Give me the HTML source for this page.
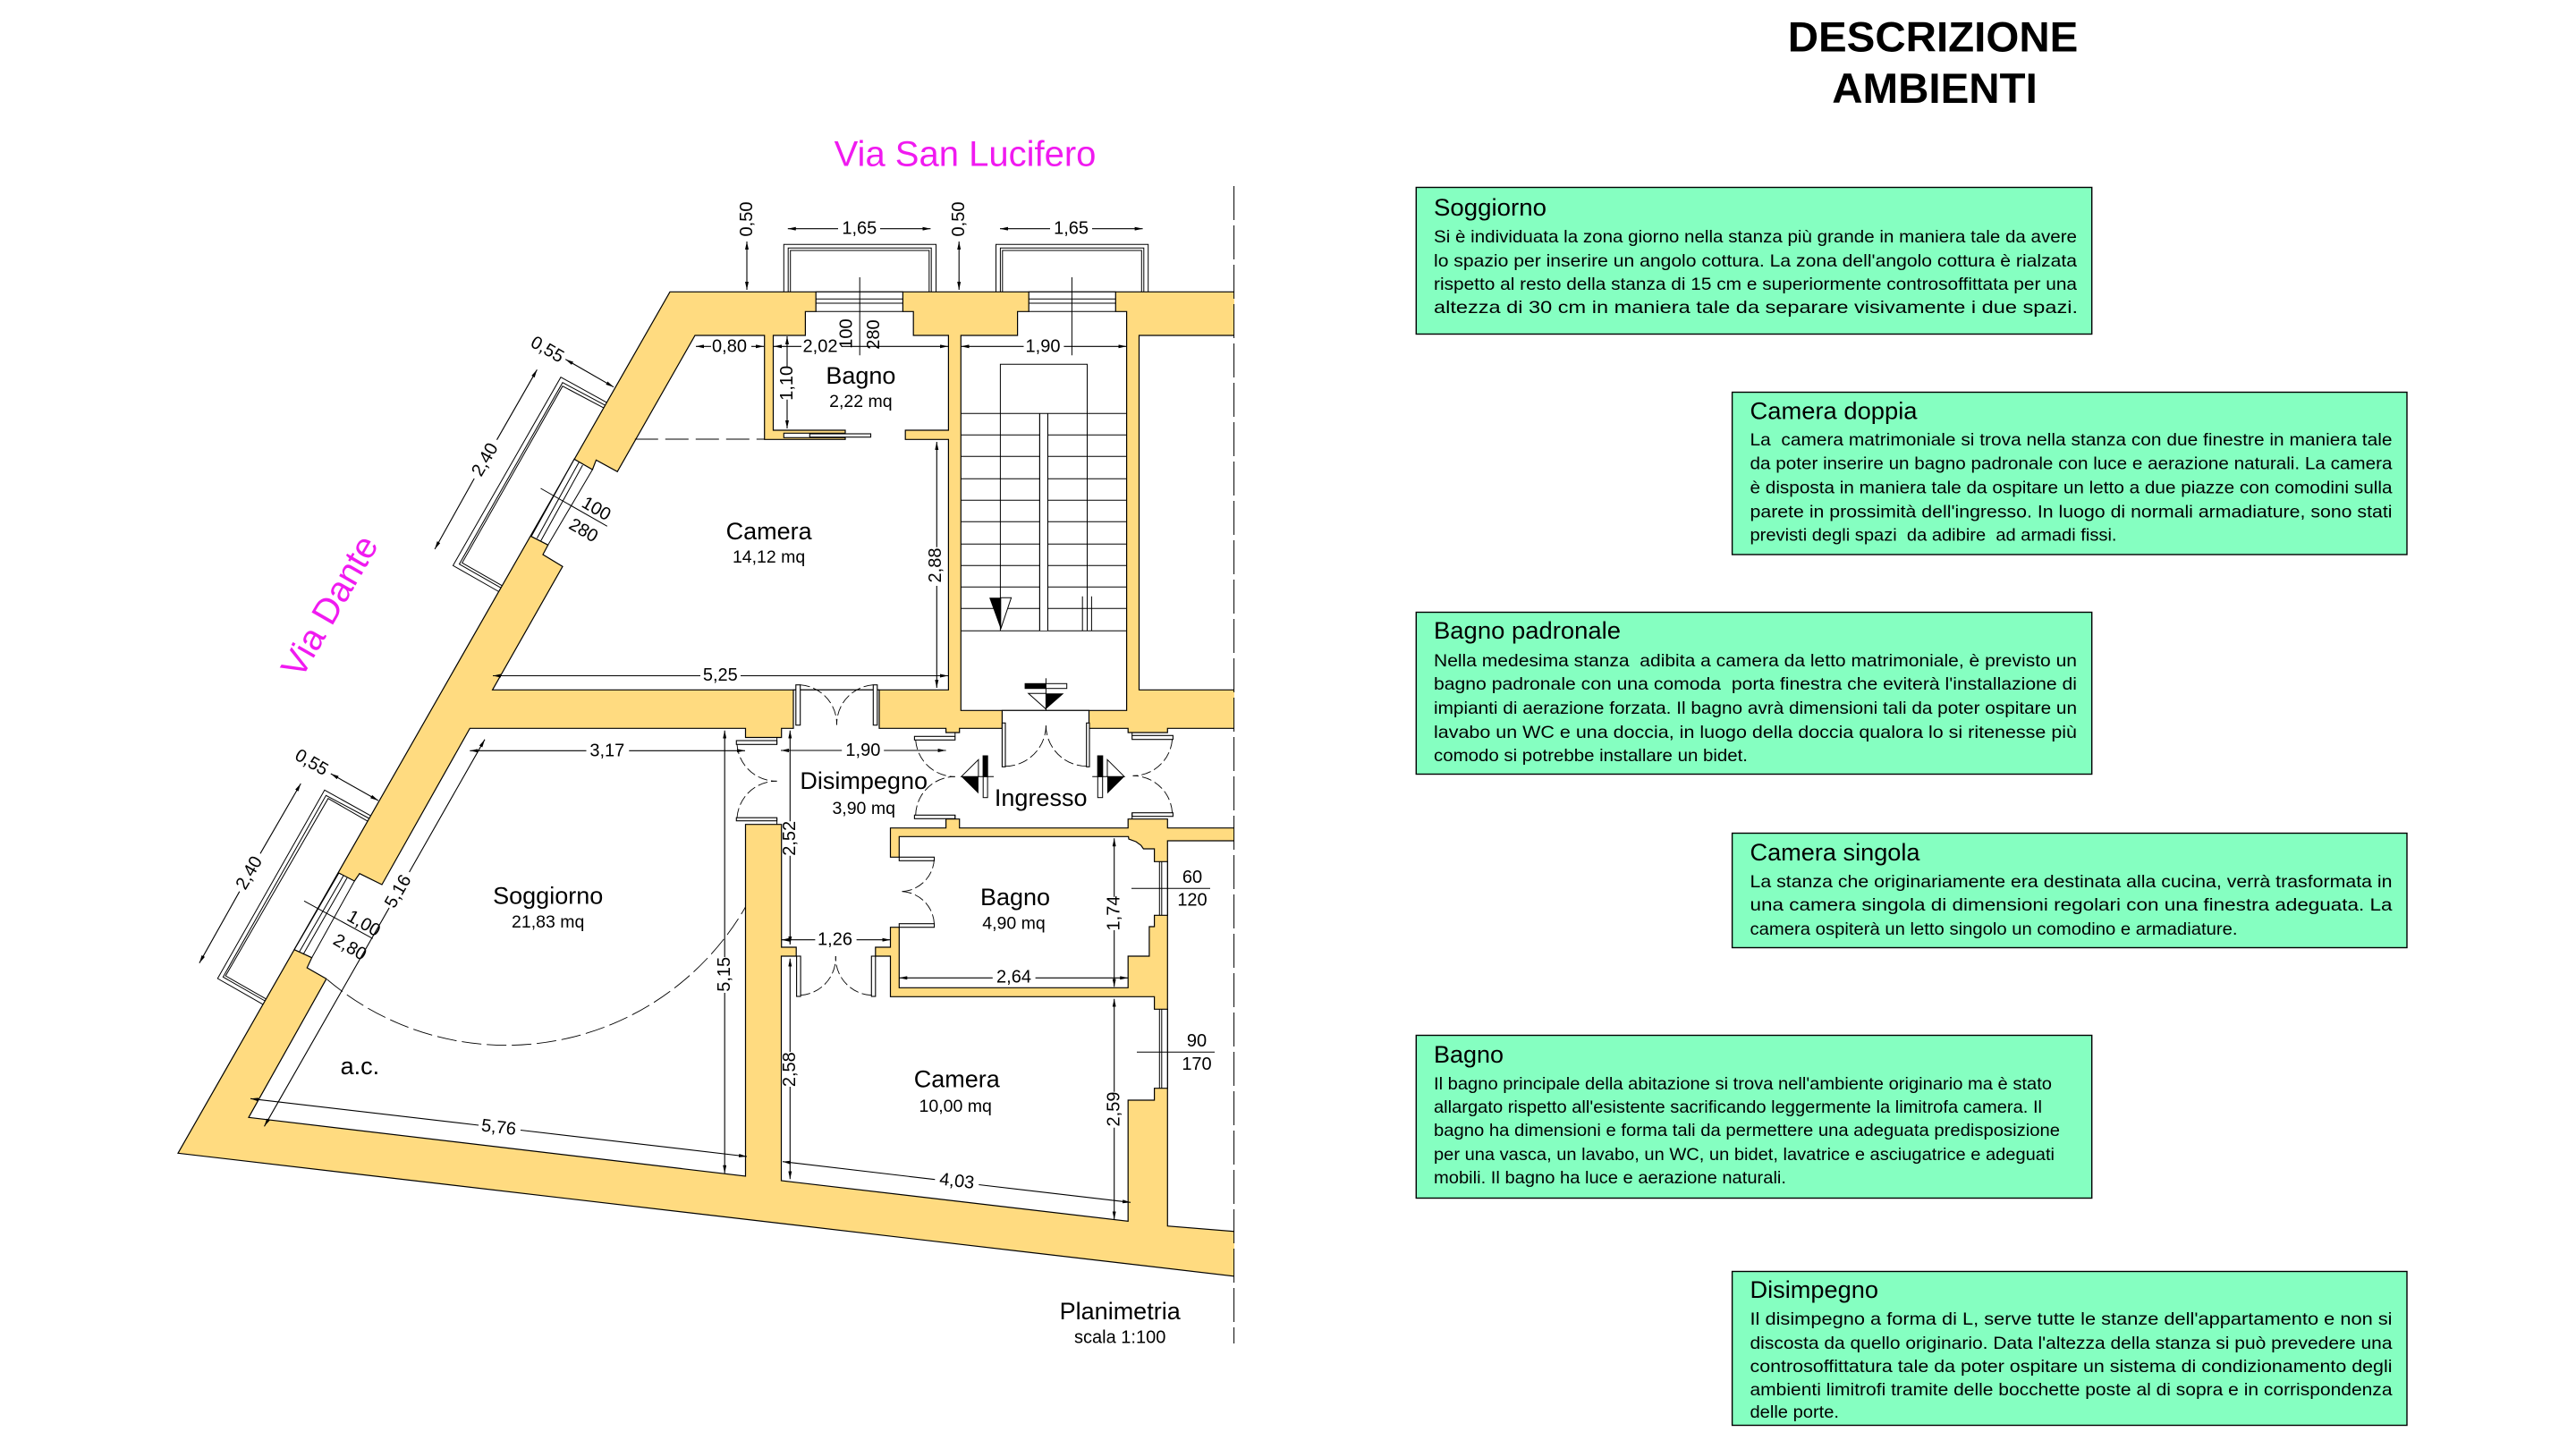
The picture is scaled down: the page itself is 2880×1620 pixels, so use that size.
<!DOCTYPE html>
<html lang="it">
<head>
<meta charset="utf-8">
<title>Planimetria e descrizione ambienti</title>
<style>
html,body{margin:0;padding:0;background:#fff;width:2880px;height:1620px;overflow:hidden}
svg{display:block}
text{font-family:"Liberation Sans",sans-serif;fill:#000;dominant-baseline:central;text-anchor:middle}
.d{font-size:20px}
.m{font-size:19.5px}
.r{font-size:27px}
.v{font-size:40px;fill:#f01af0}
.h{font-size:47.5px;font-weight:bold}
.t{font-size:27px;text-anchor:start;dominant-baseline:auto}
.b{font-size:19.5px;text-anchor:start;dominant-baseline:auto}
.wall{fill:#ffdb80;stroke:#000;stroke-width:1.2}
.room{fill:#fff;stroke:#000;stroke-width:1.2;stroke-linejoin:miter}
.l{fill:none;stroke:#000;stroke-width:1}
.dim{fill:none;stroke:#000;stroke-width:1.1;marker-start:url(#a);marker-end:url(#a)}
.arc{fill:none;stroke:#000;stroke-width:.9;stroke-dasharray:11 4}
.leaf{fill:#fff;stroke:#000;stroke-width:1.1}
.box{fill:#85ffc1;stroke:#000;stroke-width:1.4}
</style>
</head>
<body>
<svg xmlns="http://www.w3.org/2000/svg" width="2880" height="1620" viewBox="0 0 2880 1620">
<defs>
<marker id="a" viewBox="0 0 9 4" refX="9" refY="2" markerWidth="9" markerHeight="4" orient="auto-start-reverse" markerUnits="userSpaceOnUse"><path d="M0 0L9 2L0 4z" fill="#000"/></marker>
</defs>
<rect width="2880" height="1620" fill="#fff"/>

<!-- balconies -->
<g class="l">
<path class="l" d="M876.3 326V273.3H1046.5V326M881.2 326V277.3H1041.2V326M883.7 326V280H1038.8V326"/>
<path class="l" d="M1113.5 326V273.3H1283.7V326M1118.4 326V277.3H1278.8V326M1120.8 326V280H1276.3V326"/>
<path class="l" d="M678.9 450.3L627 421.7L506.5 632.3L557.8 661.5M677 453.3L629 427.7L513.5 630.7L560.2 657.3M675.5 456.3L629 431.7L516.7 629.3L561.6 654.9"/>
<path class="l" d="M413.9 911.7L362.9 883.3L243.3 1094L294 1122.9M412.7 915L364.5 889.3L249.4 1092.3L296.2 1119M411.4 918.3L366.9 892.7L252.2 1091L297.4 1116.8"/>
</g>

<!-- walls -->
<polygon class="wall" points="749,326.3 1384,326.3 1384,1427.3 199,1289.3"/>

<!-- camera + bagno padronale -->
<polygon class="room" points="777,375 854.7,375 854.7,491.3 945,491.3 945,481 864.5,481 864.5,375 900.4,375 900.4,348.3 912.2,348.3 912.2,326.3 1009.4,326.3 1009.4,348.3 1021.2,348.3 1021.2,375 1060.4,375 1060.4,481 1012.2,481 1012.2,491.3 1060.4,491.3 1060.4,771.3 550.6,771.3 629,633.3 607,620 612.7,609.3 593.9,599.7 642,513.3 662.4,525 666.5,514.3 690.2,527.3"/>
<!-- stair hall -->
<polygon class="room" points="1074.3,375 1137.6,375 1137.6,348.3 1150.2,348.3 1150.2,326.3 1247.3,326.3 1247.3,348.3 1259.6,348.3 1259.6,794.3 1074.3,794.3"/>
<!-- right rooms -->
<polygon class="room" points="1273.5,375 1384,375 1384,771.3 1273.5,771.3"/>
<polygon class="room" points="1305.3,940 1384,940 1384,1377.1 1305.3,1370.7"/>
<!-- living + corridor + bagno + camera singola -->
<polygon class="room" points="525.3,814.3 833.5,814.3 833.5,824.5 873.7,824.5 873.7,814.3 887,814.3 887,771.3 983,771.3 983,814.3 1057.6,814.3 1057.6,819 1072.7,819 1072.7,814.3 1120.4,814.3 1120.4,794.3 1217.5,794.3 1217.5,814.3 1261.2,814.3 1261.2,819 1305.3,819 1305.3,814.3 1384,814.3 1384,925.7 1305.3,925.7 1305.3,915.7 1261.2,915.7 1261.2,925.7 1072.7,925.7 1072.7,915.7 1057.6,915.7 1057.6,925.7 995.5,925.7 995.5,958.3 1005.3,958.3 1005.3,935.3 1261.6,935.3 1262,938 1270,941 1275.6,945 1278.4,949 1290.6,949 1290.6,963.3 1305.3,963.3 1305.3,1023.3 1290.6,1023.3 1290.6,1036 1284.9,1036 1284.9,1069 1261.2,1069 1261.2,1104.3 1005.3,1104.3 1005.3,1036.7 995.5,1036.7 995.5,1059 978.8,1059 978.8,1069 995.5,1069 995.5,1114.3 1290.6,1114.3 1290.6,1128.3 1305.3,1128.3 1305.3,1216.7 1290.6,1216.7 1290.6,1230 1261.2,1230 1261.2,1365.3 873.5,1320 873.5,1069 890.2,1069 890.2,1059 873.7,1059 873.7,921.7 833.5,921.7 833.5,1315 278,1249.3 364.9,1094.3 343.3,1082 348.6,1070.7 329,1061.7 378.8,976 396.3,985 402,976.7 427,989"/>

<!-- clip right side -->
<rect x="1380" y="200" width="30" height="1310" fill="#fff"/>
<path d="M1379.6 208V1502" fill="none" stroke="#000" stroke-width="1" stroke-dasharray="38 6"/>

<!-- windows -->
<g class="l">
<path class="l" d="M912.2 334.3H1009.4M912.2 339H1009.4M912.2 348.3H1009.4"/>
<path class="l" d="M1150.2 334.3H1247.3M1150.2 339H1247.3M1150.2 348.3H1247.3"/>
<path class="l" d="M647.3 516.7L600.4 601.7M651.4 520L604.5 605M662.4 525L612.7 609.3"/>
<path class="l" d="M384 979L334.5 1064.5M388 981.5L339 1067M396.3 985L348.6 1070.7"/>
<path class="l" d="M1296.3 963.3V1023.3M1298.8 963.3V1023.3M1296.3 1128.3V1216.7M1298.8 1128.3V1216.7"/>
</g>

<!-- dashed partition -->
<path d="M709.8 491H854.7" fill="none" stroke="#000" stroke-width="1" stroke-dasharray="26 8"/>

<!-- stairs -->
<path class="l" d="M1118.4 705.3V407.3H1215.5V705.3M1074.3 462.3H1259.6M1074.3 486.3H1259.6M1074.3 510.3H1259.6M1074.3 535.3H1259.6M1074.3 559.3H1259.6M1074.3 583.3H1259.6M1074.3 608.3H1259.6M1074.3 632.3H1259.6M1074.3 656.3H1259.6M1074.3 680.3H1259.6M1074.3 705.3H1259.6M1162.4 462.3V705.3M1171.4 462.3V705.3M1210.2 666.7V705.3M1220.4 666.7V705.3"/>
<rect x="1163" y="463" width="8" height="242" fill="#fff"/>
<path class="l" d="M1162.4 462.3V705.3M1171.4 462.3V705.3"/>
<polygon points="1106.1,668.3 1118.8,668.3 1118.8,703.3" fill="#000"/>
<polygon points="1118.8,668.3 1130.6,668.3 1118.8,703.3" fill="#fff" stroke="#000" stroke-width="1"/>

<!-- level markers -->
<rect x="1146.1" y="764.3" width="46.6" height="5.4" fill="#fff" stroke="#000"/>
<rect x="1146.1" y="764.3" width="23.3" height="5.4" fill="#000"/>
<path class="l" d="M1169.4 758.3V794.3"/>
<polygon points="1149.8,775.3 1169.4,775.3 1169.4,792.7" fill="#fff" stroke="#000" stroke-width="1"/>
<polygon points="1169.4,775.3 1189.4,775.3 1169.4,792.7" fill="#000"/>

<rect x="1099.2" y="845" width="4.9" height="46.7" fill="#fff" stroke="#000"/>
<rect x="1099.2" y="845" width="4.9" height="23.3" fill="#000" stroke="#000"/>
<path class="l" d="M1074.7 868.3H1111"/>
<polygon points="1074.7,868.3 1093.9,849.3 1093.9,868.3" fill="#fff" stroke="#000" stroke-width="1"/>
<polygon points="1074.7,868.3 1093.9,868.3 1093.9,887.3" fill="#000"/>

<rect x="1227.3" y="845" width="5.4" height="46.7" fill="#fff" stroke="#000"/>
<rect x="1227.3" y="845" width="5.4" height="23.3" fill="#000" stroke="#000"/>
<path class="l" d="M1221.2 868.3H1257.1"/>
<polygon points="1257.1,868.3 1238,849.3 1238,868.3" fill="#fff" stroke="#000" stroke-width="1"/>
<polygon points="1257.1,868.3 1238,868.3 1238,887.3" fill="#000"/>

<!-- door leaves -->
<rect class="leaf" x="876.3" y="484.3" width="68.6" height="5"/>
<rect class="leaf" x="905.3" y="485" width="68.2" height="3.7"/>
<rect class="leaf" x="889.8" y="765.7" width="4.9" height="45"/>
<rect class="leaf" x="976.3" y="765.7" width="4.5" height="45"/>
<rect class="leaf" x="823.3" y="828" width="45.3" height="4.3"/>
<rect class="leaf" x="823.3" y="914.2" width="45.3" height="3.5"/>
<rect class="leaf" x="1022.4" y="823.3" width="45.4" height="4"/>
<rect class="leaf" x="1022.4" y="911.3" width="45.4" height="4"/>
<rect class="leaf" x="1265.7" y="822.3" width="45.7" height="4.4"/>
<rect class="leaf" x="1265.7" y="908.7" width="45.7" height="4"/>
<rect class="leaf" x="1120.4" y="808.3" width="3.6" height="49"/>
<rect class="leaf" x="1214.7" y="808.3" width="3.3" height="49"/>
<rect class="leaf" x="1005.3" y="958.3" width="39.2" height="4"/>
<rect class="leaf" x="1005.3" y="1032.7" width="39.2" height="4"/>
<rect class="leaf" x="890.6" y="1069" width="4.5" height="45"/>
<rect class="leaf" x="974.3" y="1069" width="4.5" height="45"/>
<path class="l" d="M868.6 832.3V824.5M868.6 914.2V921.7M1067.8 823.3V819M1067.8 911.3V915.7M1265.7 822.3V819M1265.7 908.7V915.7"/>

<!-- door swings -->
<path class="arc" d="M894.7 765.7A44 44 0 0 1 935.5 810.5"/>
<path class="arc" d="M976.3 765.7A44 44 0 0 0 935.5 810.5"/>
<path class="arc" d="M824 832.3A44 44 0 0 0 868.6 873.3"/>
<path class="arc" d="M824 914.2A44 44 0 0 1 868.6 873.3"/>
<path class="arc" d="M1023.7 827.3A44 44 0 0 0 1067.8 868.3"/>
<path class="arc" d="M1023.7 911.3A44 44 0 0 1 1067.8 868.3"/>
<path class="arc" d="M1310.6 826.7A44 44 0 0 1 1266.5 867.3"/>
<path class="arc" d="M1310.6 908.7A44 44 0 0 0 1266.5 867.3"/>
<path class="arc" d="M1124 856.7A46 46 0 0 0 1169.4 808.3"/>
<path class="arc" d="M1214.7 856.7A46 46 0 0 1 1169.4 808.3"/>
<path class="arc" d="M1044.5 960A38 38 0 0 1 1005.3 996.7"/>
<path class="arc" d="M1044.5 1033A38 38 0 0 0 1005.3 996.7"/>
<path class="arc" d="M895.1 1112.7A42 42 0 0 0 934.3 1069"/>
<path class="arc" d="M974.3 1112.7A42 42 0 0 1 934.3 1069"/>
<path d="M365.7 1095A309 309 0 0 0 833.5 1014" fill="none" stroke="#000" stroke-width=".9" stroke-dasharray="22 6"/>

<!-- dimension lines -->
<path class="dim" d="M880.8 255.7H937M984 255.7H1040.4"/>
<path class="dim" d="M1118 255.7H1174M1221 255.7H1277.6"/>
<path class="dim" d="M835 270V324"/>
<path class="dim" d="M1072.2 270V324"/>
<path class="l" d="M961.2 310V397.3M1198.4 310V397.3"/>
<path class="dim" d="M778 387.3H795M840 387.3H854"/>
<path class="dim" d="M865 387.3H896M941 387.3H1060"/>
<path class="dim" d="M1074.5 387.3H1144.5M1189.4 387.3H1259.5"/>
<path class="dim" d="M880 376V410M880 446.7V479"/>
<path class="dim" d="M1047.3 494V611.7M1047.3 655V769"/>
<path class="dim" d="M551 755.5H783M828 755.5H1060"/>
<path class="dim" d="M525.3 839.3H655.5M703.3 839.3H833"/>
<path class="dim" d="M873 839H941.2M988.2 839H1057.6"/>
<path class="dim" d="M810.2 816.7V1070M810.2 1110V1311.7"/>
<path class="dim" d="M883.3 816.7V918.3M883.3 956.7V1056"/>
<path class="dim" d="M883.3 1071.7V1176M883.3 1215V1318.3"/>
<path class="dim" d="M873.5 1050.7H911.4M957.6 1050.7H995.5"/>
<path class="dim" d="M1245.7 937.3V1002.7M1245.7 1040V1103.3"/>
<path class="dim" d="M1005.3 1093.3H1109.8M1157.6 1093.3H1261.2"/>
<path class="dim" d="M1245.7 1116.7V1220.7M1245.7 1260.7V1363.3"/>
<path class="dim" d="M875 1298.7L1045.3 1318.7M1094.3 1324.5L1264 1344.3"/>
<path class="dim" d="M280 1228.3L535.1 1258M582 1263.5L835 1293"/>
<path class="dim" d="M542 826.7L457.6 975M435.1 1015L295.5 1259.3"/>
<path class="dim" d="M632.2 401.7L686.1 432.7"/>
<path class="dim" d="M600.4 413.3L555.5 491.7M530.2 535L486.1 614"/>
<path class="dim" d="M369.8 865L422.9 895"/>
<path class="dim" d="M336.3 876L291 954.3M267.8 996.7L222.9 1076.7"/>
<path class="l" d="M604.5 546L678.8 588.3M340 1007.3L416.7 1049.3M1265 993.3H1353M1271 1176.3H1358"/>

<!-- dimension text -->
<text class="d" x="960.8" y="255.7">1,65</text>
<text class="d" x="1197.6" y="255.7">1,65</text>
<text class="d" transform="rotate(-90 835 245)" x="835" y="245">0,50</text>
<text class="d" transform="rotate(-90 1072.2 245)" x="1072.2" y="245">0,50</text>
<text class="d" x="815.5" y="387.3">0,80</text>
<text class="d" x="917" y="387.3">2,02</text>
<text class="d" x="1166" y="387.3">1,90</text>
<text class="d" transform="rotate(-90 946.5 373)" x="946.5" y="373">100</text>
<text class="d" transform="rotate(-90 977 374)" x="977" y="374">280</text>
<text class="d" transform="rotate(-90 880 428.3)" x="880" y="428.3">1,10</text>
<text class="d" transform="rotate(-90 1046 632)" x="1046" y="632">2,88</text>
<text class="d" x="805.3" y="755">5,25</text>
<text class="d" x="678.8" y="839.3">3,17</text>
<text class="d" x="964.9" y="839">1,90</text>
<text class="d" transform="rotate(-90 810 1089.3)" x="810" y="1089.3">5,15</text>
<text class="d" transform="rotate(-90 883 937.3)" x="883" y="937.3">2,52</text>
<text class="d" transform="rotate(-90 883 1195.7)" x="883" y="1195.7">2,58</text>
<text class="d" x="933.5" y="1050.7">1,26</text>
<text class="d" transform="rotate(-90 1245.7 1021)" x="1245.7" y="1021">1,74</text>
<text class="d" x="1133.5" y="1092.3">2,64</text>
<text class="d" transform="rotate(-90 1245.7 1240)" x="1245.7" y="1240">2,59</text>
<text class="d" transform="rotate(6.7 1069.8 1320.7)" x="1069.8" y="1320.7">4,03</text>
<text class="d" transform="rotate(6.7 557.6 1260.7)" x="557.6" y="1260.7">5,76</text>
<text class="d" transform="rotate(-60 445.3 996.7)" x="445.3" y="996.7">5,16</text>
<text class="d" transform="rotate(30 611.8 391)" x="611.8" y="391">0,55</text>
<text class="d" transform="rotate(-60 542.4 514)" x="542.4" y="514">2,40</text>
<text class="d" transform="rotate(30 666.5 569)" x="666.5" y="569">100</text>
<text class="d" transform="rotate(30 652.2 593.3)" x="652.2" y="593.3">280</text>
<text class="d" transform="rotate(30 348.2 852.7)" x="348.2" y="852.7">0,55</text>
<text class="d" transform="rotate(-60 278.8 976)" x="278.8" y="976">2,40</text>
<text class="d" transform="rotate(30 406.5 1032.7)" x="406.5" y="1032.7">1,00</text>
<text class="d" transform="rotate(30 391 1059.3)" x="391" y="1059.3">2,80</text>
<text class="d" x="1333" y="981">60</text>
<text class="d" x="1333" y="1006.7">120</text>
<text class="d" x="1338" y="1164">90</text>
<text class="d" x="1338" y="1190">170</text>

<!-- room labels -->
<text class="r" x="962.4" y="420">Bagno</text>
<text class="m" x="962.4" y="449">2,22 mq</text>
<text class="r" x="859.6" y="594">Camera</text>
<text class="m" x="859.6" y="623">14,12 mq</text>
<text class="r" x="612.7" y="1001.7">Soggiorno</text>
<text class="m" x="612.7" y="1031">21,83 mq</text>
<text class="r" x="402.4" y="1192">a.c.</text>
<text class="r" x="965.7" y="873">Disimpegno</text>
<text class="m" x="965.7" y="904">3,90 mq</text>
<text class="r" x="1163.7" y="892">Ingresso</text>
<text class="r" x="1135" y="1003">Bagno</text>
<text class="m" x="1133.5" y="1032.5">4,90 mq</text>
<text class="r" x="1069.8" y="1206.7">Camera</text>
<text class="m" x="1068.2" y="1237">10,00 mq</text>
<text class="r" x="1252.2" y="1466">Planimetria</text>
<text class="d" x="1252.2" y="1495.7">scala 1:100</text>
<text class="v" x="1079" y="172.6">Via San Lucifero</text>
<text class="v" transform="rotate(-60 369 678)" x="369" y="678">Via Dante</text>

<!-- title -->
<text class="h" x="2161" y="42">DESCRIZIONE</text>
<text class="h" x="2163" y="99.6">AMBIENTI</text>

<!-- description boxes -->
<rect class="box" x="1583.3" y="209.5" width="755.4" height="164"/>
<text class="t" x="1603" y="241" textLength="126" lengthAdjust="spacingAndGlyphs">Soggiorno</text>
<text class="b" x="1603" y="271" textLength="719" lengthAdjust="spacingAndGlyphs">Si è individuata la zona giorno nella stanza più grande in maniera tale da avere</text>
<text class="b" x="1603" y="298" textLength="719" lengthAdjust="spacingAndGlyphs">lo spazio per inserire un angolo cottura. La zona dell'angolo cottura è rialzata</text>
<text class="b" x="1603" y="324" textLength="719" lengthAdjust="spacingAndGlyphs">rispetto al resto della stanza di 15 cm e superiormente controsoffittata per una</text>
<text class="b" x="1603" y="350" textLength="720" lengthAdjust="spacingAndGlyphs">altezza di 30 cm in maniera tale da separare visivamente i due spazi.</text>

<rect class="box" x="1936.6" y="438.5" width="754.4" height="181.5"/>
<text class="t" x="1956.5" y="468.5" textLength="187" lengthAdjust="spacingAndGlyphs">Camera doppia</text>
<text class="b" x="1956.5" y="498" textLength="718" lengthAdjust="spacingAndGlyphs">La&#160; camera matrimoniale si trova nella stanza con due finestre in maniera tale</text>
<text class="b" x="1956.5" y="524.5" textLength="718" lengthAdjust="spacingAndGlyphs">da poter inserire un bagno padronale con luce e aerazione naturali. La camera</text>
<text class="b" x="1956.5" y="551.5" textLength="718" lengthAdjust="spacingAndGlyphs">è disposta in maniera tale da ospitare un letto a due piazze con comodini sulla</text>
<text class="b" x="1956.5" y="578.5" textLength="718" lengthAdjust="spacingAndGlyphs">parete in prossimità dell'ingresso. In luogo di normali armadiature, sono stati</text>
<text class="b" x="1956.5" y="604.5" textLength="410" lengthAdjust="spacingAndGlyphs">previsti degli spazi&#160; da adibire&#160; ad armadi fissi.</text>

<rect class="box" x="1583.3" y="684.5" width="755.4" height="181"/>
<text class="t" x="1603" y="714" textLength="209" lengthAdjust="spacingAndGlyphs">Bagno padronale</text>
<text class="b" x="1603" y="745" textLength="719" lengthAdjust="spacingAndGlyphs">Nella medesima stanza&#160; adibita a camera da letto matrimoniale, è previsto un</text>
<text class="b" x="1603" y="771" textLength="719" lengthAdjust="spacingAndGlyphs">bagno padronale con una comoda&#160; porta finestra che eviterà l'installazione di</text>
<text class="b" x="1603" y="798" textLength="719" lengthAdjust="spacingAndGlyphs">impianti di aerazione forzata. Il bagno avrà dimensioni tali da poter ospitare un</text>
<text class="b" x="1603" y="825" textLength="719" lengthAdjust="spacingAndGlyphs">lavabo un WC e una doccia, in luogo della doccia qualora lo si ritenesse più</text>
<text class="b" x="1603" y="851" textLength="351" lengthAdjust="spacingAndGlyphs">comodo si potrebbe installare un bidet.</text>

<rect class="box" x="1936.6" y="931.5" width="754.4" height="128"/>
<text class="t" x="1956.5" y="962" textLength="190" lengthAdjust="spacingAndGlyphs">Camera singola</text>
<text class="b" x="1956.5" y="992" textLength="718" lengthAdjust="spacingAndGlyphs">La stanza che originariamente era destinata alla cucina, verrà trasformata in</text>
<text class="b" x="1956.5" y="1018" textLength="718" lengthAdjust="spacingAndGlyphs">una camera singola di dimensioni regolari con una finestra adeguata. La</text>
<text class="b" x="1956.5" y="1045" textLength="545" lengthAdjust="spacingAndGlyphs">camera ospiterà un letto singolo un comodino e armadiature.</text>

<rect class="box" x="1583.3" y="1157.5" width="755.4" height="182"/>
<text class="t" x="1603" y="1188" textLength="78" lengthAdjust="spacingAndGlyphs">Bagno</text>
<text class="b" x="1603" y="1218" textLength="691" lengthAdjust="spacingAndGlyphs">Il bagno principale della abitazione si trova nell'ambiente originario ma è stato</text>
<text class="b" x="1603" y="1244" textLength="680" lengthAdjust="spacingAndGlyphs">allargato rispetto all'esistente sacrificando leggermente la limitrofa camera. Il</text>
<text class="b" x="1603" y="1270" textLength="700" lengthAdjust="spacingAndGlyphs">bagno ha dimensioni e forma tali da permettere una adeguata predisposizione</text>
<text class="b" x="1603" y="1297" textLength="694" lengthAdjust="spacingAndGlyphs">per una vasca, un lavabo, un WC, un bidet, lavatrice e asciugatrice e adeguati</text>
<text class="b" x="1603" y="1323" textLength="394" lengthAdjust="spacingAndGlyphs">mobili. Il bagno ha luce e aerazione naturali.</text>

<rect class="box" x="1936.6" y="1421.5" width="754.4" height="172"/>
<text class="t" x="1956.5" y="1451" textLength="143.5" lengthAdjust="spacingAndGlyphs">Disimpegno</text>
<text class="b" x="1956.5" y="1481" textLength="718" lengthAdjust="spacingAndGlyphs">Il disimpegno a forma di L, serve tutte le stanze dell'appartamento e non si</text>
<text class="b" x="1956.5" y="1508" textLength="718" lengthAdjust="spacingAndGlyphs">discosta da quello originario. Data l'altezza della stanza si può prevedere una</text>
<text class="b" x="1956.5" y="1534" textLength="718" lengthAdjust="spacingAndGlyphs">controsoffittatura tale da poter ospitare un sistema di condizionamento degli</text>
<text class="b" x="1956.5" y="1560" textLength="718" lengthAdjust="spacingAndGlyphs">ambienti limitrofi tramite delle bocchette poste al di sopra e in corrispondenza</text>
<text class="b" x="1956.5" y="1585" textLength="99.5" lengthAdjust="spacingAndGlyphs">delle porte.</text>
</svg>
</body>
</html>
